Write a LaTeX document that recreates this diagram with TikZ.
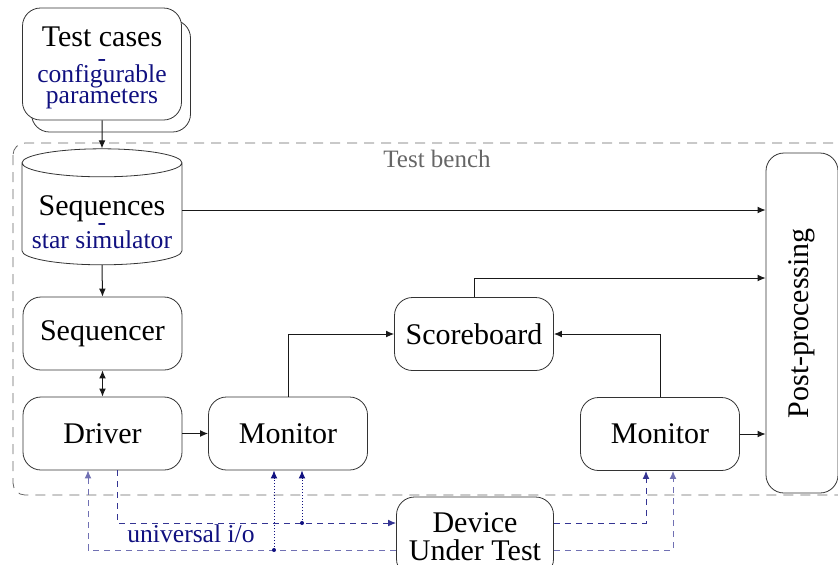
\documentclass[tikz,border=0pt]{standalone}
\usepackage{fontspec}
\setmainfont{Liberation Serif}
\usetikzlibrary{shapes.geometric,shadows,arrows.meta}
\definecolor{navyblue}{RGB}{16,16,128}
\newcommand{\subtxt}[1]{{\fontsize{12.8}{14}\selectfont\color{navyblue}#1}}
\newcommand{\boxfont}{\fontsize{15}{16}\selectfont\lineskiplimit=-20pt\relax}

\begin{document}
\begin{tikzpicture}[x=0.5pt,y=-0.5pt,
    box/.style={draw=black!80, rounded corners=9pt, fill=white, align=center,
      minimum width=79.5pt, minimum height=36.5pt, inner sep=0pt, font=\boxfont},
    arr/.style={-{Latex[length=4pt,width=3.4pt]}, black!90, line width=0.5pt},
    iout/.style={navyblue!85, dashed, dash pattern=on 3pt off 2.5pt, line width=0.5pt},
    iret/.style={navyblue!60, dashed, dash pattern=on 3pt off 2.5pt, line width=0.5pt},
    probe/.style={navyblue, dash pattern=on 0.5pt off 1pt, line width=0.5pt},
    tip/.style={-{Latex[length=4pt,width=3.4pt]}}]
    \useasboundingbox (0,0) rectangle (838,564);

    % test bench frame
    \draw[black!60, dash pattern=on 5pt off 3.5pt, rounded corners=6pt] (13,143) rectangle (850,495);
    \node[text=black!60, font=\fontsize{12.5}{14}\selectfont] (tb) at (437,159) {Test bench};

    % 1. test cases and sequences
    \node[box, minimum height=56pt, copy shadow={shadow xshift=4.5pt, shadow yshift=-6pt, draw=black!80, fill=white}]
      (tc) at (102,64) {\rule{0pt}{13.5pt}Test cases\\[-6pt]\subtxt{-}\\[-8pt]\subtxt{configurable}\\[-5.5pt]\subtxt{parameters}};
    \node[box, rounded corners=0pt, cylinder, shape border rotate=90, aspect=0.2,
      minimum width=80pt, minimum height=58pt]
      (seq) at (102,214) {\rule{0pt}{18pt}Sequences\\[-8.5pt]\subtxt{-}\\[-7pt]\subtxt{star simulator}};

    % 2. agent
    \node[box] (sqr) at (102.5,333.5) {Sequencer};
    \node[box] (drv) at (102.5,433.5) {Driver};
    \node[box] (mon1) at (288,433.5) {Monitor};
    \node[box] (sb) at (474,334) {Scoreboard};
    \node[box] (mon2) at (660,434) {Monitor};
    \node[box, minimum width=36pt, minimum height=170pt,
      label={[rotate=90, font=\boxfont]center:Post-processing}] (post) at (802,323) {};
    \node[box, minimum width=78.5pt, minimum height=40pt,
      font=\fontsize{15}{14}\selectfont] (dut) at (475,537) {Device\\Under Test};

    % 3. connections
    \draw[arr] (tc.south) -- (seq.north);
    \draw[arr] (seq.south) -- (sqr.north);
    \draw[arr, {Latex[length=4pt,width=3.4pt]}-{Latex[length=4pt,width=3.4pt]}] (sqr.south) -- (drv.north);
    \draw[arr] (drv.east) -- (mon1.west);
    \draw[arr] (mon1.north) |- (sb.west);
    \draw[arr] (mon2.north) |- (sb.east);
    \draw[arr] (seq.east |- 0,210) -- (post.west |- 0,210);
    \draw[arr] (sb.north) |- ([yshift=22.5pt]post.west);
    \draw[arr] (mon2.east) -- (mon2.east -| post.west);

    % 4. universal i/o
    \coordinate (dIn) at ([yshift=7pt]dut.west);
    \coordinate (dRet) at ([yshift=-6.5pt]dut.west);
    \coordinate (m1a) at ([xshift=-7pt]mon1.south);
    \coordinate (m1b) at ([xshift=7pt]mon1.south);
    \draw[iout, tip] ([xshift=7.25pt]drv.south) |- (dIn);
    \draw[iret, tip] (dRet) -| ([xshift=-7.25pt]drv.south);
    \draw[probe, tip] (m1b |- dIn) -- (m1b);
    \draw[probe, tip] (m1a |- dRet) -- (m1a);
    \fill[navyblue] (m1b |- dIn) circle (1pt) (m1a |- dRet) circle (1pt);
    \node[text=navyblue, font=\fontsize{12.8}{14}\selectfont] (uio) at (191,534) {universal i/o};
    \draw[iout, tip] ([yshift=7pt]dut.east) -| ([xshift=-7pt]mon2.south);
    \draw[iret, tip] ([yshift=-6.5pt]dut.east) -| ([xshift=6.5pt]mon2.south);
\end{tikzpicture}
\end{document}
